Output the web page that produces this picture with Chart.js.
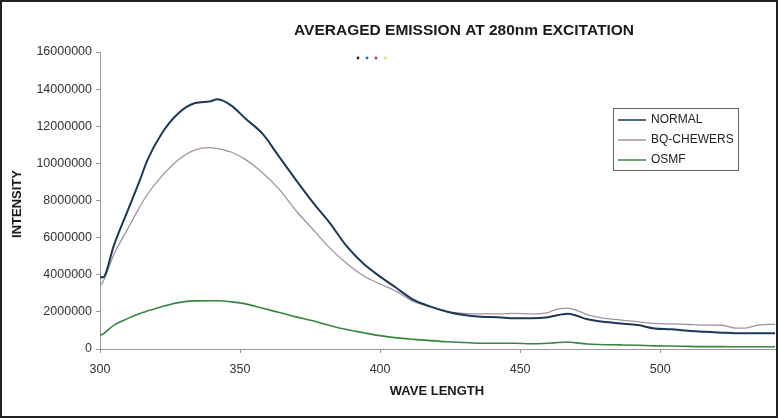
<!DOCTYPE html>
<html>
<head>
<meta charset="utf-8">
<script src="https://cdn.jsdelivr.net/npm/chart.js@4/dist/chart.umd.min.js"></script>
<style>
  html, body { margin: 0; padding: 0; background: #fff; }
  #wrap { width: 778px; height: 418px; }
</style>
</head>
<body>
<div id="wrap"><canvas id="lineChart" width="778" height="418"></canvas></div>
<script>
// wavelength (nm)
const waveLength = [300, 301, 305, 310, 314, 317, 322, 328, 334, 339, 342, 347, 352, 358, 364, 370, 376, 382, 388, 394,
  400, 406, 412, 418, 424, 430, 436, 442, 448, 454, 460, 462, 467, 470, 474, 478, 486, 492, 498, 504,
  510, 516, 522, 527, 530, 535, 541];

const normal = [3900000, 3850000, 5600000, 7500000, 9000000, 10200000, 11600000, 12700000, 13250000, 13330000,
  13450000, 13100000, 12400000, 11600000, 10350000, 9100000, 7900000, 6800000, 5550000, 4600000,
  3900000, 3270000, 2640000, 2280000, 2010000, 1830000, 1740000, 1710000, 1650000, 1650000,
  1710000, 1780000, 1900000, 1800000, 1600000, 1500000, 1380000, 1290000, 1110000, 1060000,
  980000, 930000, 880000, 850000, 850000, 850000, 850000];

const bqChewers = [3400000, 3600000, 5100000, 6500000, 7600000, 8350000, 9300000, 10200000, 10730000, 10850000,
  10800000, 10600000, 10200000, 9500000, 8600000, 7450000, 6450000, 5450000, 4620000, 3950000,
  3500000, 3090000, 2550000, 2280000, 2000000, 1920000, 1890000, 1890000, 1920000, 1890000,
  1960000, 2100000, 2200000, 2100000, 1850000, 1700000, 1560000, 1470000, 1380000, 1350000,
  1320000, 1290000, 1280000, 1120000, 1120000, 1290000, 1330000];

const osmf = [750000, 800000, 1290000, 1650000, 1900000, 2050000, 2280000, 2500000, 2590000, 2600000,
  2600000, 2540000, 2430000, 2190000, 1970000, 1730000, 1520000, 1270000, 1050000, 880000,
  720000, 600000, 520000, 450000, 390000, 350000, 310000, 310000, 310000, 280000,
  310000, 330000, 380000, 330000, 270000, 240000, 220000, 200000, 170000, 160000,
  140000, 130000, 130000, 120000, 120000, 120000, 120000];

const seriesNames = ['NORMAL', 'BQ-CHEWERS', 'OSMF'];
const seriesColors = ['#1d3859', '#a491a6', '#3a8442'];
const yTicks = [0, 2000000, 4000000, 6000000, 8000000, 10000000, 12000000, 14000000, 16000000];
const xTicks = [300, 350, 400, 450, 500];

const toPoints = vals => vals.map((v, i) => ({ x: waveLength[i], y: v }));

const FONT = '"Liberation Sans", Arial, sans-serif';

// title, axis titles, legend box, frame
const decorations = {
  id: 'decorations',
  afterDraw(chart) {
    const ctx = chart.ctx;
    ctx.save();
    ctx.fillStyle = '#1a1a1a';
    ctx.textAlign = 'center';
    ctx.textBaseline = 'middle';
    ctx.font = 'bold 15.5px ' + FONT;
    ctx.fillText('AVERAGED EMISSION AT 280nm EXCITATION', 464, 31);

    ctx.font = 'bold 13px ' + FONT;
    ctx.fillText('WAVE LENGTH', 437, 391);
    ctx.save();
    ctx.translate(17, 204);
    ctx.rotate(-Math.PI / 2);
    ctx.fillText('INTENSITY', 0, 0);
    ctx.restore();

    // small colour specks under the title
    const specks = ['#222', '#2a6fb0', '#b0307a', '#e8e060'];
    specks.forEach((c, i) => {
      ctx.fillStyle = c;
      ctx.beginPath();
      ctx.arc(358 + i * 9, 58, 1.4, 0, Math.PI * 2);
      ctx.fill();
    });

    // legend
    ctx.strokeStyle = '#666';
    ctx.lineWidth = 1;
    ctx.strokeRect(613.5, 108.5, 125, 62);
    ctx.font = '12px ' + FONT;
    ctx.textAlign = 'left';
    chart.data.datasets.forEach((ds, i) => {
      const y = 120 + i * 20;
      ctx.strokeStyle = ds.borderColor;
      ctx.lineWidth = 1.5;
      ctx.beginPath();
      ctx.moveTo(618, y);
      ctx.lineTo(646, y);
      ctx.stroke();
      ctx.fillStyle = '#222';
      ctx.fillText(ds.label, 651, y);
    });

    // outer frame
    ctx.strokeStyle = '#222';
    ctx.lineWidth = 2;
    ctx.strokeRect(1, 1, chart.width - 2, chart.height - 2);
    ctx.restore();
  }
};

const config = {
  type: 'line',
  data: {
    datasets: [
      { label: seriesNames[0], data: toPoints(normal), borderColor: seriesColors[0], borderWidth: 2 },
      { label: seriesNames[1], data: toPoints(bqChewers), borderColor: seriesColors[1], borderWidth: 1.3 },
      { label: seriesNames[2], data: toPoints(osmf), borderColor: seriesColors[2], borderWidth: 1.6 }
    ]
  },
  options: {
    responsive: false,
    animation: false,
    devicePixelRatio: 1,
    layout: { padding: { top: 52, right: 3, left: 0, bottom: 0 } },
    elements: {
      point: { radius: 0 },
      line: { cubicInterpolationMode: 'monotone', fill: false }
    },
    plugins: {
      legend: { display: false },
      title: { display: false },
      tooltip: { enabled: false }
    },
    scales: {
      x: {
        type: 'linear',
        min: 300,
        max: 541,
        afterFit: s => { s.height = 69; },
        afterBuildTicks: s => { s.ticks = xTicks.map(v => ({ value: v })); },
        ticks: {
          includeBounds: false,
          padding: 9,
          color: '#333',
          font: { family: FONT, size: 12.5 },
          maxRotation: 0
        },
        grid: { drawOnChartArea: false, drawTicks: true, tickLength: 4, color: '#999' },
        border: { display: true, color: '#999', width: 1 }
      },
      y: {
        min: 0,
        max: 16000000,
        afterFit: s => { s.width = 100; },
        afterBuildTicks: s => { s.ticks = yTicks.map(v => ({ value: v })); },
        ticks: {
          padding: 4,
          color: '#333',
          font: { family: FONT, size: 12.5 },
          callback: v => String(v)
        },
        grid: { drawOnChartArea: false, drawTicks: true, tickLength: 4, color: '#999' },
        border: { display: true, color: '#999', width: 1 }
      }
    }
  },
  plugins: [decorations]
};

const ctx = document.getElementById('lineChart').getContext('2d');
const chartInstance = new Chart(ctx, config);
</script>
</body>
</html>
